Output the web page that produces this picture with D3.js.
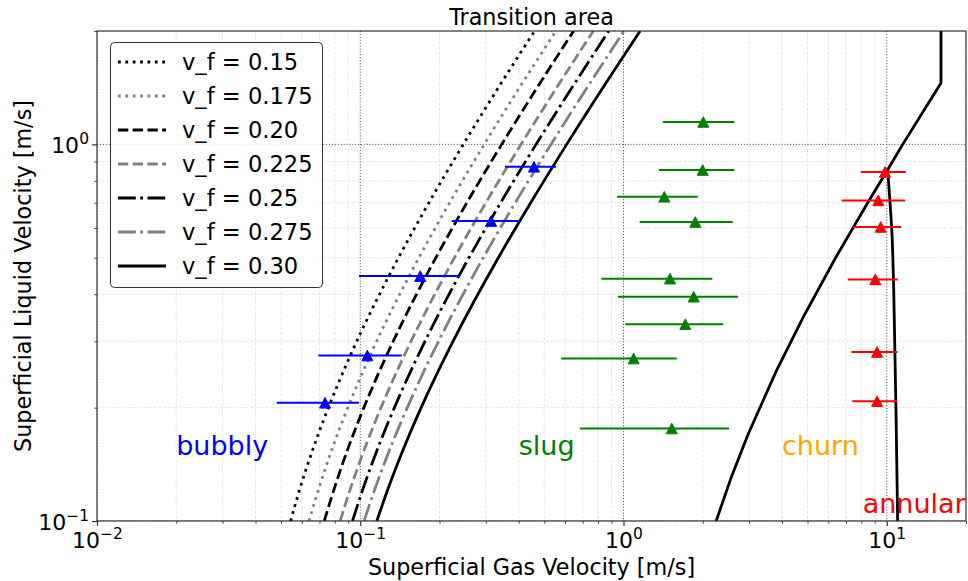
<!DOCTYPE html>
<html>
<head>
<meta charset="utf-8">
<script src="https://cdn.jsdelivr.net/npm/d3@7"></script>
<style>
  body { margin: 0; background: #fff; }
  svg { display: block; }
  text { font-family: "DejaVu Sans", sans-serif; }
</style>
</head>
<body>
<svg id="chart" width="968" height="581"></svg>
<script>
// ---- bubbly/slug boundaries, one curve per void fraction v_f ----
const vfLabels = ["0.15", "0.175", "0.20", "0.225", "0.25", "0.275", "0.30"];
const boundaryLiquid = [0.1, 0.12, 0.15, 0.2, 0.3, 0.5, 0.7, 1.0, 1.5, 2.0];
const gasVf015  = [0.0544, 0.0586, 0.0650, 0.0757, 0.0970, 0.1397, 0.1823, 0.2463, 0.3529, 0.4595];
const gasVf0175 = [0.0639, 0.0691, 0.0768, 0.0897, 0.1154, 0.1670, 0.2185, 0.2958, 0.4246, 0.5535];
const gasVf020  = [0.0730, 0.0791, 0.0881, 0.1032, 0.1334, 0.1937, 0.2541, 0.3446, 0.4955, 0.6463];
const gasVf0225 = [0.0839, 0.0911, 0.1019, 0.1199, 0.1559, 0.2279, 0.3000, 0.4080, 0.5880, 0.7681];
const gasVf025  = [0.0934, 0.1017, 0.1141, 0.1348, 0.1761, 0.2588, 0.3415, 0.4655, 0.6722, 0.8789];
const gasVf0275 = [0.1034, 0.1129, 0.1271, 0.1509, 0.1983, 0.2932, 0.3880, 0.5304, 0.7676, 1.0047];
const gasVf030  = [0.1156, 0.1265, 0.1429, 0.1703, 0.2251, 0.3346, 0.4441, 0.6084, 0.8823, 1.1561];

// ---- slug/churn boundary (ends in a vertical limit) ----
const churnGas    = [2.249, 2.560, 2.974, 3.803, 4.839, 6.394, 8.466, 10.08, 11.50, 16.07, 16.07];
const churnLiquid = [0.1, 0.13, 0.17, 0.25, 0.35, 0.5, 0.7, 0.856, 1.0, 1.455, 2.0];

// ---- churn/annular boundary ----
const annularLineGas    = [10.08, 10.22, 10.44, 10.62, 10.72, 10.85, 11.0];
const annularLineLiquid = [0.856, 0.75, 0.6, 0.42, 0.3, 0.19, 0.1];

// ---- measured points with gas-velocity ranges ----
const bubblyGas    = [0.0735, 0.1064, 0.169, 0.314, 0.457];
const bubblyLiquid = [0.206, 0.275, 0.447, 0.626, 0.872];
const bubblyGasMin = [0.0482, 0.0693, 0.0989, 0.2226, 0.3547];
const bubblyGasMax = [0.0989, 0.1438, 0.2378, 0.4009, 0.5543];

const slugGas    = [2.010, 1.999, 1.429, 1.874, 1.502, 1.848, 1.717, 1.093, 1.525];
const slugLiquid = [1.147, 0.855, 0.726, 0.622, 0.440, 0.394, 0.333, 0.270, 0.176];
const slugGasMin = [1.409, 1.364, 0.945, 1.152, 0.824, 0.953, 1.016, 0.580, 0.682];
const slugGasMax = [2.636, 2.636, 1.913, 2.599, 2.175, 2.722, 2.394, 1.593, 2.517];

const annularGas    = [9.85, 9.289, 9.485, 9.048, 9.185, 9.185];
const annularLiquid = [0.845, 0.710, 0.6035, 0.438, 0.281, 0.208];
const annularGasMin = [7.963, 6.745, 7.464, 7.108, 7.334, 7.398];
const annularGasMax = [11.80, 11.73, 11.33, 11.0, 10.98, 10.94];

// ---- regime labels ----
const regimeNames  = ["bubbly", "slug", "churn", "annular"];
const regimeX      = [0.02, 0.4, 4, 8.1];
const regimeY      = [0.15, 0.15, 0.15, 0.105];

// ---- axis ticks ----
const xMajorTicks = [0.01, 0.1, 1, 10];
const xMajorExp   = ["−2", "−1", "0", "1"];
const yMajorTicks = [0.1, 1];
const yMajorExp   = ["−1", "0"];

// ================= drawing =================
const svg = d3.select("#chart");
const pL = 97, pR = 966, pT = 31, pB = 521;
const x = d3.scaleLog().domain([0.01, 20]).range([pL, pR]);
const y = d3.scaleLog().domain([0.1, 2]).range([pB, pT]);

svg.append("defs").append("clipPath").attr("id", "plotClip")
  .append("rect").attr("x", pL).attr("y", pT)
  .attr("width", pR - pL).attr("height", pB - pT);

function minorTicks(lo, hi) {
  const out = [];
  for (let e = Math.floor(Math.log10(lo)); e <= Math.ceil(Math.log10(hi)); e++) {
    for (let m = 2; m <= 9; m++) {
      const v = m * Math.pow(10, e);
      if (v > lo * 1.0001 && v < hi * 1.0001) out.push(v);
    }
  }
  return out;
}
const xMinor = minorTicks(0.01, 20);
const yMinor = minorTicks(0.1, 2);

// grid
const grid = svg.append("g").attr("clip-path", "url(#plotClip)");
grid.selectAll(".gxm").data(xMinor).join("line")
  .attr("x1", d => x(d)).attr("x2", d => x(d)).attr("y1", pT).attr("y2", pB)
  .attr("stroke", "#e3e3e3").attr("stroke-width", 0.9).attr("stroke-dasharray", "3.5,1.6");
grid.selectAll(".gym").data(yMinor).join("line")
  .attr("y1", d => y(d)).attr("y2", d => y(d)).attr("x1", pL).attr("x2", pR)
  .attr("stroke", "#e3e3e3").attr("stroke-width", 0.9).attr("stroke-dasharray", "3.5,1.6");
grid.selectAll(".gxM").data(xMajorTicks).join("line")
  .attr("x1", d => x(d)).attr("x2", d => x(d)).attr("y1", pT).attr("y2", pB)
  .attr("stroke", "#555").attr("stroke-width", 1).attr("stroke-dasharray", "1.1,1.8");
grid.selectAll(".gyM").data(yMajorTicks).join("line")
  .attr("y1", d => y(d)).attr("y2", d => y(d)).attr("x1", pL).attr("x2", pR)
  .attr("stroke", "#555").attr("stroke-width", 1).attr("stroke-dasharray", "1.1,1.8");

// boundary curves
const lw = 2.78;
const curveStyles = [
  { color: "#000000", dash: `${lw},${1.65 * lw}` },
  { color: "#808080", dash: `${lw},${1.65 * lw}` },
  { color: "#000000", dash: `${3.7 * lw},${1.6 * lw}` },
  { color: "#808080", dash: `${3.7 * lw},${1.6 * lw}` },
  { color: "#000000", dash: `${6.4 * lw},${1.6 * lw},${lw},${1.6 * lw}` },
  { color: "#808080", dash: `${6.4 * lw},${1.6 * lw},${lw},${1.6 * lw}` },
  { color: "#000000", dash: null }
];
const vfGas = [gasVf015, gasVf0175, gasVf020, gasVf0225, gasVf025, gasVf0275, gasVf030];

const plot = svg.append("g").attr("clip-path", "url(#plotClip)");
const smooth = d3.line().x(d => x(d[0])).y(d => y(d[1])).curve(d3.curveMonotoneY);
vfGas.forEach((gas, i) => {
  const pts = gas.map((g, k) => [g, boundaryLiquid[k]]);
  plot.append("path").attr("d", smooth(pts))
    .attr("fill", "none").attr("stroke", curveStyles[i].color)
    .attr("stroke-width", lw)
    .attr("stroke-dasharray", curveStyles[i].dash);
});

const straight = d3.line().x(d => x(d[0])).y(d => y(d[1]));
plot.append("path")
  .attr("d", straight(churnGas.map((g, k) => [g, churnLiquid[k]])))
  .attr("fill", "none").attr("stroke", "#000").attr("stroke-width", lw)
  .attr("stroke-linejoin", "round");
plot.append("path")
  .attr("d", smooth(annularLineGas.map((g, k) => [g, annularLineLiquid[k]]).reverse()))
  .attr("fill", "none").attr("stroke", "#000").attr("stroke-width", lw);

// measured points with horizontal error bars
const tri = "M0,-5.3L5.5,5.3L-5.5,5.3Z";
function drawSet(gas, liq, lo, hi, color) {
  const g = plot.append("g");
  g.selectAll("line").data(gas).join("line")
    .attr("x1", (d, i) => x(lo[i])).attr("x2", (d, i) => x(hi[i]))
    .attr("y1", (d, i) => y(liq[i])).attr("y2", (d, i) => y(liq[i]))
    .attr("stroke", color).attr("stroke-width", 2);
  g.selectAll("path").data(gas).join("path")
    .attr("d", tri)
    .attr("transform", (d, i) => `translate(${x(d)},${y(liq[i])})`)
    .attr("fill", color).attr("stroke", color).attr("stroke-width", 1);
}
drawSet(bubblyGas, bubblyLiquid, bubblyGasMin, bubblyGasMax, "#0000ff");
drawSet(slugGas, slugLiquid, slugGasMin, slugGasMax, "#008000");
drawSet(annularGas, annularLiquid, annularGasMin, annularGasMax, "#ff0000");

// regime labels
const regimeColors = ["#0000ff", "#008000", "#ffa500", "#ff0000"];
svg.selectAll(".regime").data(regimeNames).join("text")
  .attr("x", (d, i) => x(regimeX[i])).attr("y", (d, i) => y(regimeY[i]))
  .attr("font-size", 27).attr("fill", (d, i) => regimeColors[i])
  .text(d => d);

// axes frame
svg.append("rect").attr("x", pL).attr("y", pT)
  .attr("width", pR - pL).attr("height", pB - pT)
  .attr("fill", "none").attr("stroke", "#222").attr("stroke-width", 1.1);

// ticks
const xAxisMajor = d3.axisBottom(x).tickValues(xMajorTicks).tickSize(4.9).tickPadding(4.9);
const xAxisMinor = d3.axisBottom(x).tickValues(xMinor).tickSize(2.8).tickFormat("");
const yAxisMajor = d3.axisLeft(y).tickValues(yMajorTicks).tickSize(4.9).tickPadding(4.9);
const yAxisMinor = d3.axisLeft(y).tickValues(yMinor).tickSize(2.8).tickFormat("");

function styleAxis(g) {
  g.select(".domain").remove();
  g.selectAll(".tick line").attr("stroke", "#222").attr("stroke-width", 1.1);
}
const gxm = svg.append("g").attr("transform", `translate(0,${pB})`).call(xAxisMinor);
styleAxis(gxm); gxm.selectAll(".tick line").attr("stroke-width", 0.8);
const gym = svg.append("g").attr("transform", `translate(${pL},0)`).call(yAxisMinor);
styleAxis(gym); gym.selectAll(".tick line").attr("stroke-width", 0.8);

const gx = svg.append("g").attr("transform", `translate(0,${pB})`).call(xAxisMajor);
styleAxis(gx);
gx.selectAll(".tick text").each(function(d, i) {
  const t = d3.select(this);
  t.text(null).attr("y", 27).attr("dy", null)
    .attr("font-size", 22).attr("fill", "#000")
    .attr("font-family", "DejaVu Sans, sans-serif");
  t.append("tspan").text("10");
  t.append("tspan").attr("dy", -9).attr("font-size", 15.5).text(xMajorExp[i]);
});

const gy = svg.append("g").attr("transform", `translate(${pL},0)`).call(yAxisMajor);
styleAxis(gy);
gy.selectAll(".tick text").each(function(d, i) {
  const t = d3.select(this);
  t.text(null).attr("dy", null).attr("y", 8).attr("x", -8)
    .attr("font-size", 22).attr("fill", "#000")
    .attr("font-family", "DejaVu Sans, sans-serif");
  t.append("tspan").text("10");
  t.append("tspan").attr("dy", -9).attr("font-size", 15.5).text(yMajorExp[i]);
});

// title and axis labels
svg.append("text").attr("x", (pL + pR) / 2).attr("y", 25)
  .attr("text-anchor", "middle").attr("font-size", 22.3).text("Transition area");
svg.append("text").attr("x", (pL + pR) / 2).attr("y", 575)
  .attr("text-anchor", "middle").attr("font-size", 22.3).text("Superficial Gas Velocity [m/s]");
svg.append("text").attr("transform", `translate(31,${(pT + pB) / 2}) rotate(-90)`)
  .attr("text-anchor", "middle").attr("font-size", 22.3).text("Superficial Liquid Velocity [m/s]");

// legend
const legend = svg.append("g");
legend.append("rect").attr("x", 110.5).attr("y", 42.5).attr("width", 212).attr("height", 245)
  .attr("rx", 4).attr("fill", "#fff").attr("fill-opacity", 0.8)
  .attr("stroke", "#333").attr("stroke-width", 1);
vfLabels.forEach((lab, i) => {
  const cy = 62 + i * 34;
  legend.append("line").attr("x1", 118).attr("x2", 166).attr("y1", cy).attr("y2", cy)
    .attr("stroke", curveStyles[i].color).attr("stroke-width", lw)
    .attr("stroke-dasharray", curveStyles[i].dash);
  legend.append("text").attr("x", 182).attr("y", cy + 8).attr("font-size", 22.6)
    .text(`v_f = ${lab}`);
});
</script>
</body>
</html>
